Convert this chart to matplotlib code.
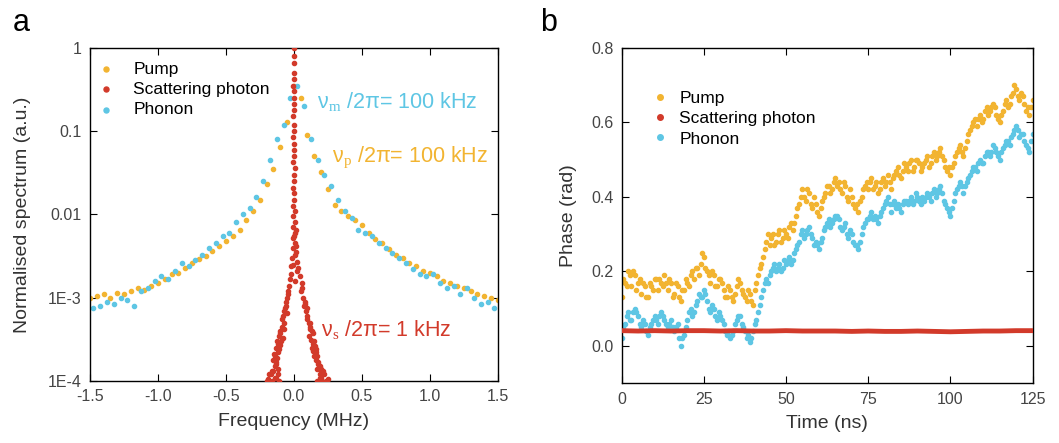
import numpy as np
import matplotlib.pyplot as plt
from matplotlib.lines import Line2D

plt.rcParams['font.family'] = ['Liberation Sans', 'DejaVu Sans']
plt.rcParams['mathtext.fontset'] = 'custom'
plt.rcParams['mathtext.rm'] = 'Liberation Serif'

# colours
c_pump = '#f2b431'
c_scat = '#d23a2a'
c_phon = '#5ec6e4'

# ---- panel a: spectra ----
freq_pump = np.linspace(-1.5, 1.5, 61)
spec_pump = [1.0e-3, 1.05e-3, 1.1e-3, 1.0e-3, 1.15e-3, 1.1e-3, 1.2e-3, 1.3e-3, 1.25e-3, 1.4e-3,
             1.5e-3, 1.7e-3, 1.9e-3, 2.0e-3, 2.3e-3, 2.6e-3, 2.9e-3, 3.2e-3, 3.6e-3, 4.2e-3,
             4.8e-3, 5.5e-3, 6.5e-3, 8.5e-3, 1.1e-2, 1.5e-2, 2.3e-2, 3.5e-2, 6.5e-2, 0.13,
             0.35,
             0.25, 0.09, 0.05, 0.032, 0.02, 0.013, 0.011, 9.5e-3, 8.5e-3, 7.5e-3,
             6.0e-3, 5.0e-3, 4.5e-3, 3.8e-3, 3.3e-3, 3.0e-3, 2.6e-3, 2.4e-3, 2.1e-3, 2.0e-3,
             1.8e-3, 1.6e-3, 1.5e-3, 1.4e-3, 1.3e-3, 1.2e-3, 1.1e-3, 1.05e-3, 1.0e-3, 9.5e-4]

freq_phon = np.linspace(-1.475, 1.475, 60)
spec_phon = [7.5e-4, 8e-4, 9e-4, 8.5e-4, 1.0e-3, 9.5e-4, 8e-4, 1.2e-3, 1.3e-3, 1.6e-3,
             1.8e-3, 1.7e-3, 2.1e-3, 2.6e-3, 2.4e-3, 2.8e-3, 3.3e-3, 4.0e-3, 4.5e-3, 5.5e-3,
             6.0e-3, 8.0e-3, 1.0e-2, 1.2e-2, 1.6e-2, 2.5e-2, 4.5e-2, 8.0e-2, 0.12, 0.25,
             0.35, 0.2, 0.08, 0.045, 0.03, 0.022, 0.015, 0.011, 9e-3, 6.5e-3,
             6.0e-3, 5.5e-3, 4.5e-3, 4.0e-3, 3.4e-3, 3.0e-3, 2.6e-3, 2.2e-3, 1.9e-3, 1.8e-3,
             1.9e-3, 1.5e-3, 1.3e-3, 1.4e-3, 1.1e-3, 1.3e-3, 1.0e-3, 8.5e-4, 9e-4, 7.5e-4]

# scattering photon: central spike, then left and right wings
freq_scat = [0.000, 0.002, -0.002, 0.001, 0.003, -0.003, 0.000, 0.004, -0.002, 0.002,
             -0.004, 0.003, 0.000, -0.003, 0.004, -0.001, 0.002, -0.004, 0.005, -0.002,
             0.003, -0.005, 0.004, 0.000, -0.004, 0.006, -0.006, 0.005, -0.003, 0.008,
             -0.008, 0.010, -0.010, 0.015, -0.012, 0.020, -0.018, 0.025, -0.022,
             0.000, 0.012, 0.006, -0.006, 0.018, 0.030, 0.010,
             -0.03, -0.035, -0.04, -0.05, -0.06, -0.055, -0.07, -0.08, -0.075, -0.09,
             -0.10, -0.11, -0.095, -0.12, -0.13, -0.115, -0.14, -0.15, -0.135, -0.14,
             -0.15, -0.18, -0.13, -0.16, -0.20,
             -0.045, -0.065, -0.05, -0.085, -0.07, -0.105, -0.08, -0.125, -0.10, -0.11,
             -0.145, -0.125, -0.13, -0.12, -0.16, -0.17, -0.14, -0.19, -0.11, -0.12,
             0.045, 0.06, 0.055, 0.07, 0.08, 0.075, 0.09, 0.10, 0.11, 0.12,
             0.13, 0.11, 0.15, 0.14, 0.13, 0.16, 0.17, 0.16, 0.18, 0.19,
             0.20, 0.22, 0.19, 0.21, 0.24,
             0.06, 0.085, 0.095, 0.10, 0.12, 0.115, 0.14, 0.125, 0.155, 0.14,
             0.165, 0.15, 0.18, 0.17, 0.20, 0.215, 0.20, 0.25, 0.17, 0.19]
spec_scat = [1.0, 0.8, 0.65, 0.5, 0.42, 0.35, 0.3, 0.25, 0.21, 0.18,
             0.15, 0.12, 0.1, 0.085, 0.07, 0.06, 0.05, 0.043, 0.036, 0.03,
             0.025, 0.021, 0.018, 0.015, 0.0125, 0.011, 0.0095, 0.008, 0.007, 0.006,
             0.0052, 0.0045, 0.004, 0.0035, 0.003, 0.0027, 0.0024, 0.0021, 0.0019,
             0.0055, 0.0065, 0.0033, 0.0025, 0.0042, 0.0023, 0.0016,
             0.0017, 0.0014, 0.0012, 0.001, 0.0009, 0.0008, 0.0007, 0.0006, 0.0005, 0.00045,
             0.0004, 0.00035, 0.0003, 0.00028, 0.00025, 0.00022, 0.0002, 0.00018, 0.00016, 0.00015,
             0.00013, 0.00012, 0.00011, 0.0001, 0.0001,
             0.0011, 0.00075, 0.00065, 0.00055, 0.00042, 0.00038, 0.00033, 0.0003, 0.00027, 0.00024,
             0.00021, 0.00019, 0.00017, 0.00014, 0.00013, 0.00012, 0.00011, 0.000105, 0.0001, 0.00012,
             0.0018, 0.0015, 0.0012, 0.001, 0.0009, 0.0008, 0.0007, 0.0006, 0.0005, 0.00045,
             0.0004, 0.00035, 0.0003, 0.00028, 0.00025, 0.00022, 0.0002, 0.00018, 0.00016, 0.00015,
             0.00013, 0.00012, 0.00011, 0.0001, 0.0001,
             0.0013, 0.00085, 0.00075, 0.00055, 0.0005, 0.00042, 0.00038, 0.00031, 0.00026, 0.00023,
             0.00024, 0.0002, 0.00017, 0.00014, 0.00014, 0.00013, 0.00011, 0.000105, 0.0001, 0.00012]

# ---- panel b: phase ----
time_ns = np.arange(0, 126)
phase_pump = [0.13, 0.17, 0.20, 0.16, 0.19, 0.17, 0.14, 0.16, 0.13, 0.16,
              0.18, 0.15, 0.17, 0.19, 0.15, 0.17, 0.14, 0.16, 0.12, 0.15,
              0.17, 0.19, 0.18, 0.21, 0.22, 0.24, 0.20, 0.17, 0.19, 0.16,
              0.18, 0.15, 0.13, 0.15, 0.12, 0.16, 0.17, 0.14, 0.12, 0.14,
              0.11, 0.17, 0.21, 0.24, 0.28, 0.27, 0.30, 0.28, 0.31, 0.29,
              0.30, 0.32, 0.31, 0.35, 0.38, 0.42, 0.39, 0.41, 0.37, 0.38,
              0.35, 0.39, 0.41, 0.43, 0.42, 0.45, 0.44, 0.41, 0.43, 0.39,
              0.40, 0.37, 0.36, 0.40, 0.43, 0.42, 0.45, 0.43, 0.41, 0.44,
              0.43, 0.46, 0.42, 0.46, 0.48, 0.45, 0.49, 0.47, 0.50, 0.48,
              0.50, 0.47, 0.49, 0.51, 0.49, 0.52, 0.51, 0.53, 0.50, 0.47,
              0.46, 0.49, 0.52, 0.54, 0.51, 0.55, 0.58, 0.60, 0.59, 0.62,
              0.61, 0.64, 0.63, 0.65, 0.62, 0.60, 0.63, 0.66, 0.65, 0.68,
              0.69, 0.66, 0.67, 0.63, 0.62, 0.66]
phase_phon = [0.02, 0.06, 0.09, 0.07, 0.10, 0.08, 0.05, 0.06, 0.03, 0.06,
              0.08, 0.06, 0.09, 0.07, 0.05, 0.07, 0.04, 0.06, 0.00, 0.03,
              0.07, 0.10, 0.09, 0.12, 0.13, 0.15, 0.12, 0.09, 0.10, 0.07,
              0.08, 0.06, 0.03, 0.02, 0.04, 0.07, 0.08, 0.05, 0.02, 0.01,
              0.04, 0.07, 0.11, 0.15, 0.18, 0.19, 0.21, 0.20, 0.22, 0.21,
              0.22, 0.24, 0.23, 0.26, 0.28, 0.31, 0.30, 0.32, 0.29, 0.28,
              0.26, 0.29, 0.32, 0.34, 0.33, 0.35, 0.34, 0.31, 0.33, 0.29,
              0.30, 0.27, 0.26, 0.30, 0.33, 0.34, 0.36, 0.35, 0.33, 0.36,
              0.38, 0.40, 0.36, 0.39, 0.38, 0.36, 0.39, 0.38, 0.40, 0.39,
              0.40, 0.38, 0.39, 0.41, 0.39, 0.42, 0.41, 0.43, 0.39, 0.37,
              0.35, 0.39, 0.42, 0.44, 0.41, 0.44, 0.46, 0.48, 0.47, 0.50,
              0.49, 0.52, 0.51, 0.54, 0.52, 0.50, 0.53, 0.55, 0.54, 0.57,
              0.59, 0.56, 0.57, 0.54, 0.52, 0.57]

# samples taken half-way between the ones above
time_mid = np.arange(0.5, 125, 1.0)
phase_pump_mid = [0.18, 0.16, 0.19, 0.20, 0.15, 0.18, 0.17, 0.13, 0.17, 0.15,
                  0.18, 0.18, 0.16, 0.17, 0.18, 0.13, 0.17, 0.13, 0.15, 0.18,
                  0.16, 0.20, 0.21, 0.19, 0.25, 0.21, 0.19, 0.20, 0.16, 0.18,
                  0.17, 0.13, 0.16, 0.13, 0.14, 0.18, 0.15, 0.13, 0.15, 0.12,
                  0.15, 0.19, 0.22, 0.26, 0.30, 0.29, 0.27, 0.30, 0.28, 0.31,
                  0.29, 0.33, 0.33, 0.37, 0.40, 0.40, 0.42, 0.38, 0.40, 0.36,
                  0.37, 0.40, 0.43, 0.41, 0.44, 0.43, 0.42, 0.44, 0.40, 0.42,
                  0.38, 0.38, 0.39, 0.42, 0.44, 0.44, 0.42, 0.44, 0.42, 0.45,
                  0.44, 0.44, 0.45, 0.47, 0.46, 0.47, 0.48, 0.49, 0.47, 0.50,
                  0.49, 0.48, 0.50, 0.48, 0.51, 0.50, 0.52, 0.51, 0.48, 0.48,
                  0.48, 0.51, 0.53, 0.52, 0.53, 0.57, 0.59, 0.61, 0.61, 0.60,
                  0.63, 0.62, 0.64, 0.64, 0.61, 0.62, 0.65, 0.64, 0.67, 0.70,
                  0.67, 0.68, 0.65, 0.64, 0.64]
phase_phon_mid = [0.05, 0.08, 0.07, 0.09, 0.09, 0.06, 0.07, 0.04, 0.05, 0.07,
                  0.07, 0.08, 0.08, 0.06, 0.06, 0.05, 0.05, 0.02, 0.02, 0.05,
                  0.09, 0.08, 0.11, 0.14, 0.13, 0.14, 0.10, 0.11, 0.08, 0.09,
                  0.07, 0.04, 0.04, 0.03, 0.06, 0.08, 0.06, 0.04, 0.03, 0.02,
                  0.06, 0.09, 0.13, 0.17, 0.17, 0.20, 0.22, 0.21, 0.20, 0.23,
                  0.23, 0.22, 0.25, 0.27, 0.30, 0.29, 0.31, 0.30, 0.27, 0.27,
                  0.28, 0.31, 0.33, 0.32, 0.34, 0.35, 0.32, 0.32, 0.30, 0.31,
                  0.28, 0.27, 0.28, 0.32, 0.34, 0.35, 0.34, 0.34, 0.35, 0.37,
                  0.39, 0.38, 0.38, 0.37, 0.37, 0.38, 0.39, 0.39, 0.38, 0.41,
                  0.39, 0.40, 0.40, 0.40, 0.41, 0.40, 0.42, 0.41, 0.38, 0.36,
                  0.37, 0.41, 0.43, 0.43, 0.43, 0.45, 0.47, 0.48, 0.49, 0.49,
                  0.51, 0.52, 0.52, 0.53, 0.51, 0.52, 0.54, 0.55, 0.56, 0.58,
                  0.58, 0.57, 0.55, 0.53, 0.55]

time_scat = np.arange(0, 126, 5)
phase_scat = [0.041, 0.040, 0.041, 0.040, 0.041, 0.041, 0.040, 0.041, 0.040, 0.040,
              0.041, 0.040, 0.040, 0.040, 0.039, 0.040, 0.039, 0.039, 0.040, 0.039,
              0.038, 0.039, 0.040, 0.040, 0.041, 0.041]

fig = plt.figure(figsize=(10.59, 4.43), dpi=100)
ax1 = fig.add_axes([0.085, 0.140, 0.385, 0.752])
ax2 = fig.add_axes([0.587, 0.135, 0.388, 0.757])

ms = 9
ax1.scatter(freq_pump, spec_pump, s=ms, color=c_pump, label='Pump', zorder=2)
ax1.scatter(freq_scat, spec_scat, s=ms, color=c_scat, label='Scattering photon', zorder=3)
ax1.scatter(freq_phon, spec_phon, s=ms, color=c_phon, label='Phonon', zorder=2)
ax1.set_yscale('log')
ax1.set_xlim(-1.5, 1.5)
ax1.set_ylim(1e-4, 1)
ax1.set_xticks([-1.5, -1.0, -0.5, 0.0, 0.5, 1.0, 1.5])
ax1.set_xticklabels(['-1.5', '-1.0', '-0.5', '0.0', '0.5', '1.0', '1.5'])
ax1.set_yticks([1e-4, 1e-3, 1e-2, 0.1, 1])
ax1.set_yticklabels(['1E-4', '1E-3', '0.01', '0.1', '1'])
ax1.minorticks_off()
ax1.set_xlabel('Frequency (MHz)', fontsize=14, color='#333333', labelpad=6)
ax1.set_ylabel('Normalised spectrum (a.u.)', fontsize=14, color='#333333', labelpad=12)
ax1.text(0.17, 0.22, r'ν$_{\rm m}$ /2π= 100 kHz', color=c_phon, fontsize=15.5, va='center')
ax1.text(0.28, 0.048, r'ν$_{\rm p}$ /2π= 100 kHz', color=c_pump, fontsize=15.5, va='center')
ax1.text(0.20, 4.1e-4, r'ν$_{\rm s}$ /2π= 1 kHz', color=c_scat, fontsize=15.5, va='center')
ax1.legend(loc='upper left', bbox_to_anchor=(0.0, 0.98), frameon=False, fontsize=12.5,
           handlelength=1.0, handletextpad=1.1, labelspacing=0.3, borderaxespad=0.0,
           markerscale=1.2)

ax2.scatter(time_ns, phase_pump, s=ms, color=c_pump, zorder=2)
ax2.scatter(time_mid, phase_pump_mid, s=ms, color=c_pump, zorder=2)
ax2.plot(time_scat, phase_scat, color=c_scat, lw=3.5, zorder=3)
ax2.scatter(time_ns, phase_phon, s=ms, color=c_phon, zorder=2)
ax2.scatter(time_mid, phase_phon_mid, s=ms, color=c_phon, zorder=2)
ax2.set_xlim(0, 125)
ax2.set_ylim(-0.1, 0.8)
ax2.set_xticks([0, 25, 50, 75, 100, 125])
ax2.set_yticks([0.0, 0.2, 0.4, 0.6, 0.8])
ax2.set_yticklabels(['0.0', '0.2', '0.4', '0.6', '0.8'])
ax2.set_xlabel('Time (ns)', fontsize=14, color='#333333', labelpad=6)
ax2.set_ylabel('Phase (rad)', fontsize=14, color='#333333', labelpad=10)
handles = [Line2D([], [], ls='none', marker='o', ms=4, color=c)
           for c in (c_pump, c_scat, c_phon)]
ax2.legend(handles, ['Pump', 'Scattering photon', 'Phonon'], loc='upper left',
           bbox_to_anchor=(0.056, 0.893), frameon=False, fontsize=12.5,
           handlelength=1.0, handletextpad=0.6, labelspacing=0.3, borderaxespad=0.0)

for ax in (ax1, ax2):
    ax.tick_params(direction='in', top=True, right=True, length=5, labelsize=11.5,
                   labelcolor='#444444', pad=6)
    for sp in ax.spines.values():
        sp.set_linewidth(1.0)

fig.text(0.012, 0.93, 'a', fontsize=22)
fig.text(0.510, 0.93, 'b', fontsize=22)

fig.savefig('out.png', dpi=100)
